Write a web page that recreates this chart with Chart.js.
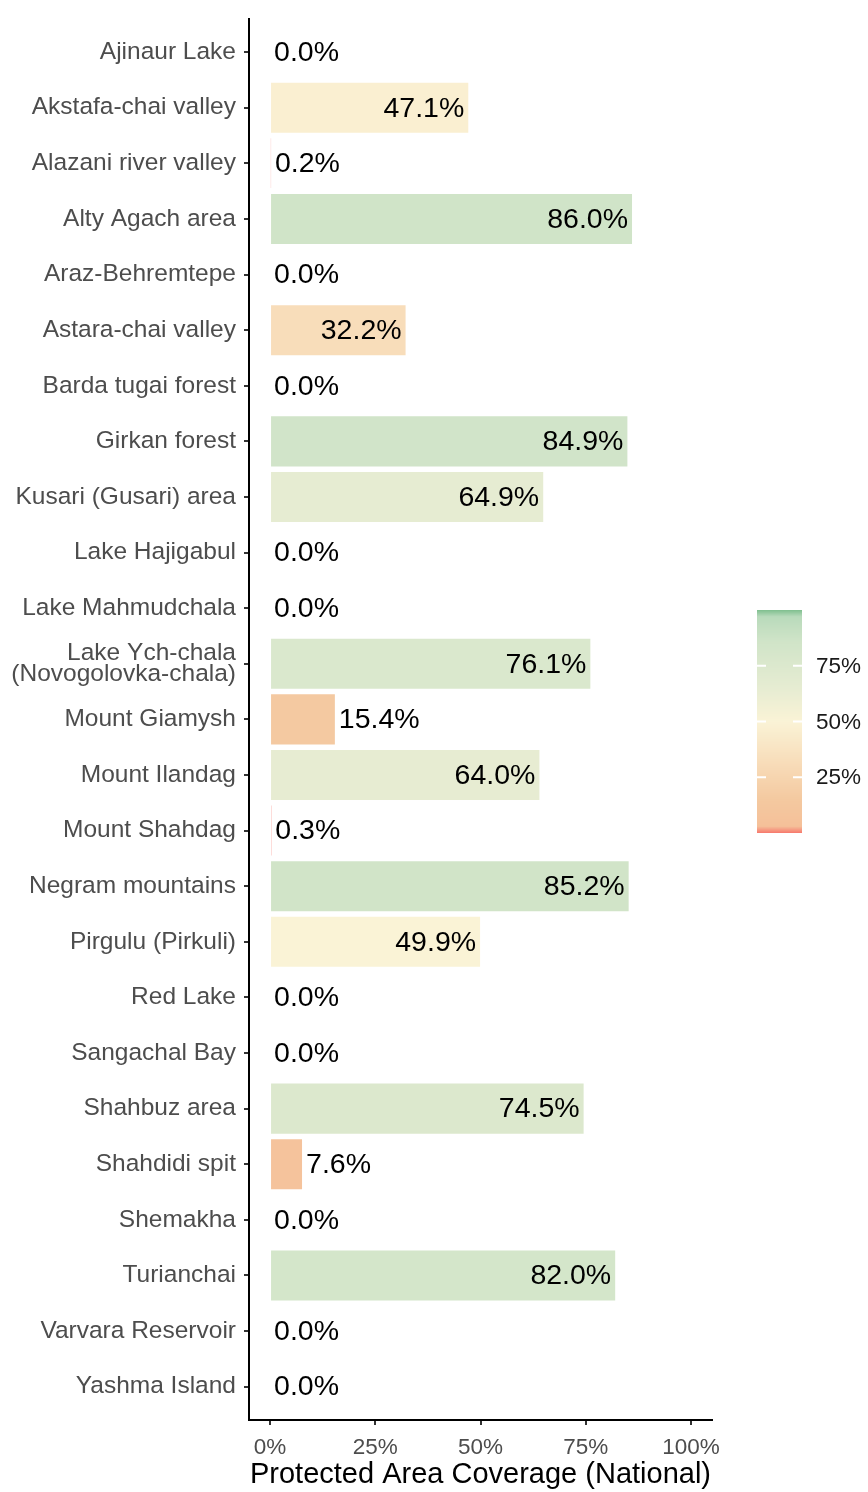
<!DOCTYPE html>
<html>
<head>
<meta charset="utf-8">
<script src="https://cdn.jsdelivr.net/npm/chart.js@4"></script>
<style>
  html, body { margin: 0; padding: 0; background: #fff; }
  #wrap { width: 868px; height: 1492px; position: relative; }
</style>
</head>
<body>
<div id="wrap"><canvas id="chart"></canvas></div>
<script>
// Data
const sites = [
    'Ajinaur Lake', 'Akstafa-chai valley', 'Alazani river valley', 'Alty Agach area',
    'Araz-Behremtepe', 'Astara-chai valley', 'Barda tugai forest', 'Girkan forest',
    'Kusari (Gusari) area', 'Lake Hajigabul', 'Lake Mahmudchala',
    ['Lake Ych-chala', '(Novogolovka-chala)'], 'Mount Giamysh', 'Mount Ilandag',
    'Mount Shahdag', 'Negram mountains', 'Pirgulu (Pirkuli)', 'Red Lake',
    'Sangachal Bay', 'Shahbuz area', 'Shahdidi spit', 'Shemakha', 'Turianchai',
    'Varvara Reservoir', 'Yashma Island'
];
const coverage = [
    0.0, 47.1, 0.2, 86.0, 0.0, 32.2, 0.0, 84.9, 64.9, 0.0, 0.0, 76.1, 15.4,
    64.0, 0.3, 85.2, 49.9, 0.0, 0.0, 74.5, 7.6, 0.0, 82.0, 0.0, 0.0
];
const xTicks = [0, 25, 50, 75, 100];
const legendTicks = [25, 50, 75];

// Colour scale (red -> peach -> cream -> green)
const colorStops = [
    [0.00, [248, 118, 109]],
    [0.004, [246, 130, 115]],
    [0.03, [245, 192, 153]],
    [0.15, [244, 201, 160]],
    [0.32, [248, 221, 186]],
    [0.50, [250, 243, 214]],
    [0.65, [230, 236, 210]],
    [0.86, [208, 228, 200]],
    [0.97, [184, 218, 187]],
    [1.00, [127, 191, 143]]
];
function colorAt(t) {
    t = Math.max(0, Math.min(1, t));
    for (let i = 1; i < colorStops.length; i++) {
        const [t1, c1] = colorStops[i];
        const [t0, c0] = colorStops[i - 1];
        if (t <= t1) {
            const f = (t - t0) / (t1 - t0);
            const c = c0.map((v, k) => Math.round(v + (c1[k] - v) * f));
            return `rgb(${c[0]},${c[1]},${c[2]})`;
        }
    }
    return 'rgb(127,191,143)';
}

const FONT = '"Liberation Sans", Arial, sans-serif';

// Value labels on bars
const valueLabels = {
    id: 'valueLabels',
    afterDatasetsDraw(chart) {
        const ctx = chart.ctx;
        const meta = chart.getDatasetMeta(0);
        ctx.save();
        ctx.font = '28.5px ' + FONT;
        ctx.fillStyle = '#000';
        ctx.textBaseline = 'middle';
        meta.data.forEach((el, i) => {
            const v = coverage[i];
            const txt = v.toFixed(1) + '%';
            if (v >= 20) {
                ctx.textAlign = 'right';
                ctx.fillText(txt, el.x - 4, el.y + 1);
            } else {
                ctx.textAlign = 'left';
                ctx.fillText(txt, el.x + 4, el.y + 1);
            }
        });
        ctx.restore();
    }
};

// Colour bar legend
const colorBar = {
    id: 'colorBar',
    afterDraw(chart) {
        const ctx = chart.ctx;
        const x0 = 757, x1 = 802, yTop = 610, yBot = 833;
        ctx.save();
        for (let y = yTop; y < yBot; y++) {
            const t = (yBot - y - 0.5) / (yBot - yTop);
            ctx.fillStyle = colorAt(t);
            ctx.fillRect(x0, y, x1 - x0, 1);
        }
        ctx.strokeStyle = '#fff';
        ctx.lineWidth = 2;
        ctx.font = '22.5px ' + FONT;
        ctx.fillStyle = '#1a1a1a';
        ctx.textAlign = 'left';
        ctx.textBaseline = 'middle';
        legendTicks.forEach(v => {
            const y = yBot - (v / 100) * (yBot - yTop);
            ctx.beginPath();
            ctx.moveTo(x0, y); ctx.lineTo(x0 + 9, y);
            ctx.moveTo(x1 - 9, y); ctx.lineTo(x1, y);
            ctx.stroke();
            ctx.fillText(v + '%', 816, y + 1);
        });
        ctx.restore();
    }
};

new Chart(document.getElementById('chart'), {
    type: 'bar',
    data: {
        datasets: [{
            data: coverage.map((v, i) => ({ x: v, y: i })),
            backgroundColor: coverage.map(v => colorAt(v / 100)),
            borderWidth: 0,
            barPercentage: 0.9,
            categoryPercentage: 1
        }]
    },
    options: {
        indexAxis: 'y',
        responsive: true,
        maintainAspectRatio: false,
        animation: false,
        layout: { padding: { top: 13, right: 156, left: 0, bottom: 0 } },
        plugins: { legend: { display: false }, tooltip: { enabled: false } },
        scales: {
            y: {
                type: 'linear',
                reverse: true,
                offset: false,
                min: -0.6,
                max: 24.6,
                afterBuildTicks: scale => { scale.ticks = sites.map((s, i) => ({ value: i })); },
                afterFit: scale => { scale.width = 249; },
                grid: { display: true, offset: false, drawOnChartArea: false, tickLength: 5, tickColor: '#333', lineWidth: 2 },
                border: { display: true, color: '#000', width: 2 },
                ticks: {
                    padding: 8,
                    color: '#4d4d4d',
                    font: { family: FONT, size: 24.5, lineHeight: 0.88 },
                    callback: v => sites[v]
                }
            },
            x: {
                type: 'linear',
                min: -5,
                max: 105,
                afterBuildTicks: scale => { scale.ticks = xTicks.map(v => ({ value: v })); },
                afterFit: scale => { scale.height = 72; },
                grid: { display: true, drawOnChartArea: false, tickLength: 5, tickColor: '#333', lineWidth: 2 },
                border: { display: true, color: '#000', width: 2 },
                ticks: {
                    padding: 9,
                    color: '#4d4d4d',
                    font: { family: FONT, size: 22.5 },
                    maxRotation: 0,
                    callback: v => v + '%'
                },
                title: {
                    display: true,
                    text: 'Protected Area Coverage (National)',
                    color: '#000',
                    font: { family: FONT, size: 29 },
                    padding: { top: 0, bottom: 0 }
                }
            }
        }
    },
    plugins: [valueLabels, colorBar]
});
</script>
</body>
</html>
